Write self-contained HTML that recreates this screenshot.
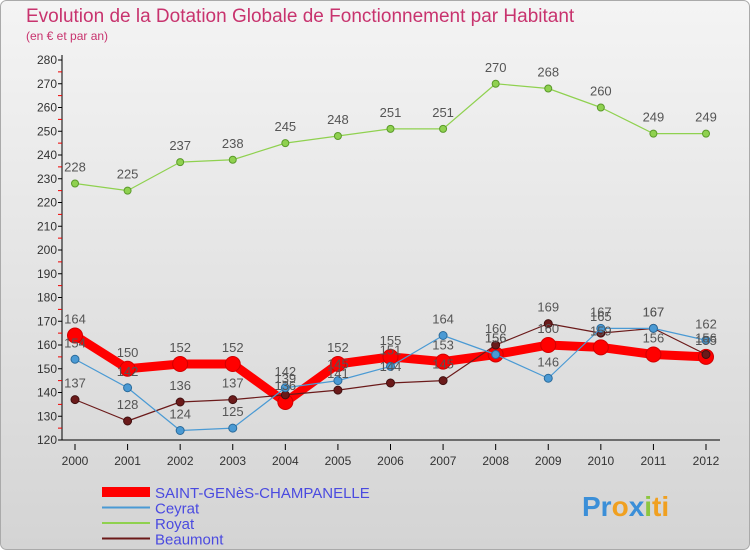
<!DOCTYPE html>
<html><head><meta charset="utf-8"><style>
body{margin:0}
svg{display:block;font-family:"Liberation Sans",sans-serif}
</style></head><body>
<svg width="750" height="550" viewBox="0 0 750 550">
<defs><linearGradient id="bg" x1="0" y1="0" x2="0" y2="1"><stop offset="0" stop-color="#f4f4f4"/><stop offset="1" stop-color="#d4d4d4"/></linearGradient></defs>
<rect x="0.5" y="0.5" width="749" height="549" rx="6" fill="url(#bg)" stroke="#aaa"/>
<text x="26" y="22" font-size="19" fill="#c8336e">Evolution de la Dotation Globale de Fonctionnement par Habitant</text>
<text x="26" y="40" font-size="12" fill="#c8336e">(en € et par an)</text>
<g id="axes"></g><g id="series"></g><g id="labels"></g><g id="legend"></g>
<text x="582" y="516" font-size="28" font-weight="bold"><tspan fill="#3b8fd8">Pr</tspan><tspan fill="#f0a020">o</tspan><tspan fill="#3b8fd8">x</tspan><tspan fill="#8cc63f">i</tspan><tspan fill="#f0a020">ti</tspan></text>
</svg>
<script>
const years=["2000","2001","2002","2003","2004","2005","2006","2007","2008","2009","2010","2011","2012"];
const yTicks=[120,130,140,150,160,170,180,190,200,210,220,230,240,250,260,270,280];
const saint=[164,150,152,152,136,152,155,153,156,160,159,156,155];
const ceyrat=[154,142,124,125,142,145,151,164,156,146,167,167,162];
const royat=[228,225,237,238,245,248,251,251,270,268,260,249,249];
const beaumont=[137,128,136,137,139,141,144,145,160,169,165,167,156];
const NS="http://www.w3.org/2000/svg";
const X=i=>75+i*(706-75)/12;
const Y=v=>440-(v-120)*(380/160);
function mk(t,a,p){const e=document.createElementNS(NS,t);for(const k in a)e.setAttribute(k,a[k]);(p||document.getElementById('series')).appendChild(e);return e;}
const ax=document.getElementById('axes');
const lb=document.getElementById('labels');
let e=mk('line',{x1:62,y1:55,x2:62,y2:440,stroke:'#000'},ax);


e=mk('line',{x1:62,y1:440,x2:720,y2:440,stroke:'#000'},ax);


yTicks.forEach(v=>{
 mk('line',{x1:58,y1:Y(v),x2:62,y2:Y(v),stroke:'#000'},ax);
 if(v<280)mk('line',{x1:58,y1:Y(v+5),x2:62,y2:Y(v+5),stroke:'#e00'},ax);
 const t=mk('text',{x:57,y:Y(v)+4,'font-size':12,'text-anchor':'end',fill:'#333'},ax);t.textContent=v;
 
 
});
years.forEach((y,i)=>{
 mk('line',{x1:X(i),y1:444,x2:X(i),y2:450,stroke:'#000'},ax);
 const t=mk('text',{x:X(i),y:465,'font-size':12,'text-anchor':'middle',fill:'#333'},ax);t.textContent=y;
 
 
});
function series(d,col,w,r,name,dark){
 const g=mk('g',{});
 
 
 mk('polyline',{points:d.map((v,i)=>X(i)+','+Y(v)).join(' '),fill:'none',stroke:col,'stroke-width':w,'stroke-linejoin':'round'},g);
 d.forEach((v,i)=>{
  const c=mk('circle',{cx:X(i),cy:Y(v),r:r,fill:col,stroke:dark,'stroke-width':1},g);
  
  
  const t=mk('text',{x:X(i),y:Y(v)-12,'font-size':13,'text-anchor':'middle',fill:'#555'},lb);t.textContent=v;
 });
}
series(saint,'#ff0000',9,7.5,'series-saint-genes','#d00000');
series(royat,'#8fd14f',1.2,3.5,'series-royat','#5a9a2a');
series(beaumont,'#6b1a1a',1.2,4,'series-beaumont','#401010');
series(ceyrat,'#4a9ad4',1.2,4,'series-ceyrat','#2a6a9a');
const lg=document.getElementById('legend');
[["SAINT-GENèS-CHAMPANELLE",'#ff0000',10],["Ceyrat",'#4a9ad4',2],["Royat",'#8fd14f',2],["Beaumont",'#6b1a1a',2]].forEach((l,i)=>{
 const y=492+i*15.5;
 const ln=mk('line',{x1:102,y1:y,x2:150,y2:y,stroke:l[1],'stroke-width':l[2]},lg);
 
 
 const t=mk('text',{x:155,y:y+6,'font-size':15,fill:'#4a4ae0'},lg);t.textContent=l[0];
 
 
});
</script>
</body></html>
